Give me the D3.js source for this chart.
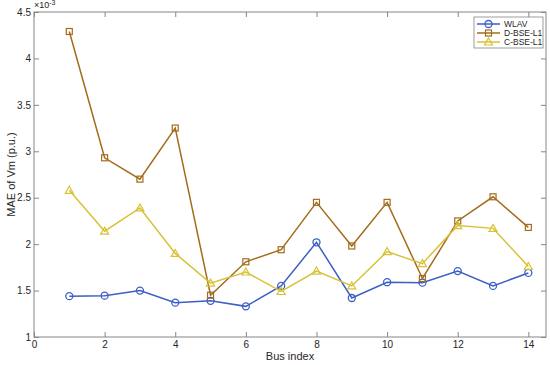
<!DOCTYPE html>
<html>
<head>
<meta charset="utf-8">
<script src="https://cdn.jsdelivr.net/npm/d3@7"></script>
<style>
  body { margin: 0; background: #fff; }
  text { font-family: "Liberation Sans", Arial, sans-serif; }
</style>
</head>
<body>
<div id="chart"></div>
<script>
// chart data (values x 1e-3)
const busIndex = [1, 2, 3, 4, 5, 6, 7, 8, 9, 10, 11, 12, 13, 14];
const wlav = [1.44, 1.445, 1.50, 1.37, 1.39, 1.33, 1.55, 2.02, 1.42, 1.59, 1.585, 1.71, 1.55, 1.69];
const dBse = [4.29, 2.93, 2.70, 3.25, 1.45, 1.81, 1.94, 2.45, 1.98, 2.45, 1.63, 2.25, 2.51, 2.18];
const cBse = [2.58, 2.14, 2.39, 1.90, 1.58, 1.70, 1.49, 1.71, 1.55, 1.92, 1.79, 2.20, 2.17, 1.76];
const xTicks = [0, 2, 4, 6, 8, 10, 12, 14];
const yTicks = [1, 1.5, 2, 2.5, 3, 3.5, 4, 4.5];
const seriesNames = ["WLAV", "D-BSE-L1", "C-BSE-L1"];

const width = 550, height = 365;
const margin = {top: 12, right: 4, bottom: 28, left: 34};

const svg = d3.select("#chart")
  .append("svg")
  .attr("width", width)
  .attr("height", height);

const xScale = d3.scaleLinear()
  .domain([0, 14.5])
  .range([margin.left, width - margin.right]);

const yScale = d3.scaleLinear()
  .domain([1, 4.5])
  .range([height - margin.bottom, margin.top]);

const axisColor = "#868686";
const textColor = "#262626";

// axes box
svg.append("rect")
  .attr("x", margin.left)
  .attr("y", margin.top)
  .attr("width", xScale(14.5) - margin.left)
  .attr("height", yScale(1) - margin.top)
  .attr("fill", "none")
  .attr("stroke", axisColor)
  .attr("stroke-width", 1);

function styleAxis(g) {
  g.select(".domain").remove();
  g.selectAll(".tick line").attr("stroke", axisColor);
  g.selectAll(".tick text").attr("fill", textColor).attr("font-size", "10px");
}

// bottom + top x axis, ticks pointing in
svg.append("g")
  .attr("transform", `translate(0,${yScale(1)})`)
  .call(d3.axisBottom(xScale).tickValues(xTicks).tickSizeInner(-5).tickPadding(4))
  .call(styleAxis);
svg.append("g")
  .attr("transform", `translate(0,${margin.top})`)
  .call(d3.axisTop(xScale).tickValues(xTicks).tickSizeInner(-5).tickFormat(""))
  .call(styleAxis);

// left + right y axis
svg.append("g")
  .attr("transform", `translate(${margin.left},0)`)
  .call(d3.axisLeft(yScale).tickValues(yTicks).tickSizeInner(-5).tickPadding(3).tickFormat(d3.format("~g")))
  .call(styleAxis);
svg.append("g")
  .attr("transform", `translate(${xScale(14.5)},0)`)
  .call(d3.axisRight(yScale).tickValues(yTicks).tickSizeInner(-5).tickFormat(""))
  .call(styleAxis);

// exponent label
const expLabel = svg.append("text")
  .attr("x", margin.left)
  .attr("y", 8)
  .attr("font-size", "9px")
  .attr("fill", textColor);
expLabel.append("tspan").text("\u00d710");
expLabel.append("tspan").attr("dy", -3).attr("font-size", "7px").text("-3");

// axis titles
svg.append("text")
  .attr("x", (margin.left + xScale(14.5)) / 2)
  .attr("y", height - 5)
  .attr("text-anchor", "middle")
  .attr("font-size", "11px")
  .attr("fill", textColor)
  .text("Bus index");

svg.append("text")
  .attr("transform", `translate(15,${(margin.top + yScale(1)) / 2}) rotate(-90)`)
  .attr("text-anchor", "middle")
  .attr("font-size", "11px")
  .attr("fill", textColor)
  .text("MAE of Vm (p.u.)");

const colors = ["#3e5fc3", "#a46b1c", "#d7c235"];
const allSeries = [wlav, dBse, cBse];
const markers = ["circle", "square", "triangle"];

const line = d3.line()
  .x((d, i) => xScale(busIndex[i]))
  .y(d => yScale(d));

function drawMarker(g, type, color, x, y) {
  if (type === "circle") {
    g.append("circle").attr("cx", x).attr("cy", y).attr("r", 3.5)
      .attr("fill", "none").attr("stroke", color).attr("stroke-width", 1.3);
  } else if (type === "square") {
    g.append("rect").attr("x", x - 3).attr("y", y - 3).attr("width", 6).attr("height", 6)
      .attr("fill", "none").attr("stroke", color).attr("stroke-width", 1.2);
  } else {
    g.append("path")
      .attr("d", `M${x},${y - 4}L${x + 4},${y + 3}L${x - 4},${y + 3}Z`)
      .attr("fill", "none").attr("stroke", color).attr("stroke-width", 1.2);
  }
}

allSeries.forEach((vals, s) => {
  svg.append("path")
    .datum(vals)
    .attr("d", line)
    .attr("fill", "none")
    .attr("stroke", colors[s])
    .attr("stroke-width", 1.5);
  const g = svg.append("g");
  vals.forEach((v, i) => drawMarker(g, markers[s], colors[s], xScale(busIndex[i]), yScale(v)));
});

// legend
const legendX = 474, legendY = 17;
const legend = svg.append("g");
legend.append("rect")
  .attr("x", legendX)
  .attr("y", legendY)
  .attr("width", xScale(14.5) - legendX - 3)
  .attr("height", 31)
  .attr("fill", "#fff")
  .attr("stroke", axisColor)
  .attr("stroke-width", 0.8);

seriesNames.forEach((name, s) => {
  const y = legendY + 7 + s * 9;
  legend.append("line")
    .attr("x1", legendX + 3).attr("x2", legendX + 26)
    .attr("y1", y).attr("y2", y)
    .attr("stroke", colors[s]).attr("stroke-width", 1.5);
  drawMarker(legend, markers[s], colors[s], legendX + 14.5, y);
  legend.append("text")
    .attr("x", legendX + 30)
    .attr("y", y + 3)
    .attr("font-size", "8.5px")
    .attr("fill", textColor)
    .text(name);
});
</script>
</body>
</html>
